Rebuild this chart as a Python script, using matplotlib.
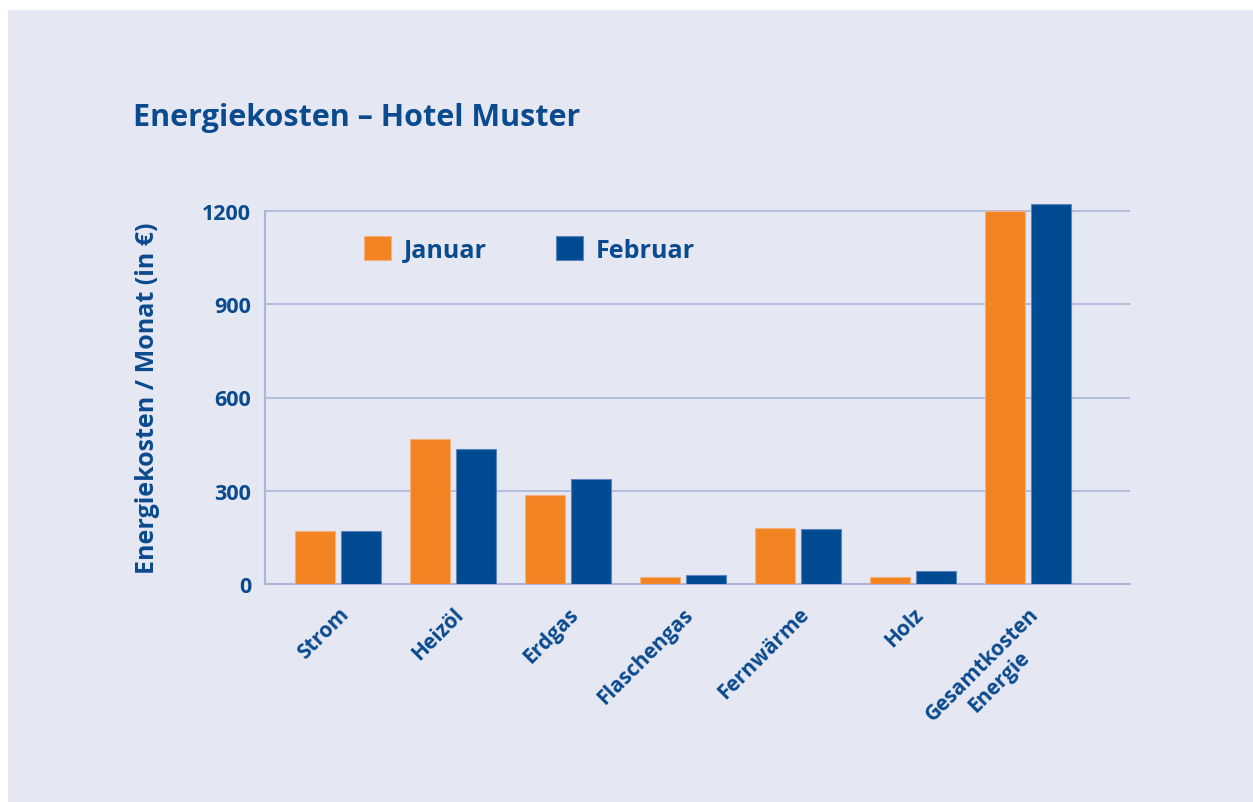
import numpy as np
import matplotlib.pyplot as plt
from matplotlib.patches import Rectangle

plt.rcParams['font.family'] = ['Open Sans', 'DejaVu Sans']

# data
categories = ["Strom", "Heizöl", "Erdgas", "Flaschengas", "Fernwärme", "Holz", "Gesamtkosten\nEnergie"]
januar = [170, 466, 286, 22, 180, 22, 1200]
februar = [170, 434, 338, 29, 177, 42, 1223]
yticks = [0, 300, 600, 900, 1200]

orange = "#f28322"
blue = "#004a91"
textcol = "#0a4a8e"
bg = "#e5e8f2"
gridcol = "#a9b6da"

fig = plt.figure(figsize=(12.53, 8.03), dpi=100)
fig.patch.set_facecolor("white")
# panel background (behind the axes)
fig.patches.append(Rectangle((8 / 1253, 0), 1 - 8 / 1253, 1 - 11 / 803,
                             transform=fig.transFigure, facecolor=bg, edgecolor="none", zorder=-5))

ax = fig.add_axes([265 / 1253, 1 - 585 / 803, (1130 - 265) / 1253, (585 - 190) / 803])
ax.set_facecolor("none")

x = np.arange(len(categories))
w = 0.348
ax.bar(x - 0.2, januar, w, color=orange, edgecolor="#f6b07a", linewidth=0.8, zorder=3, label="Januar")
ax.bar(x + 0.2, februar, w, color=blue, edgecolor="#5c86bd", linewidth=0.8, zorder=3, label="Februar")

ax.set_xlim(-0.635, len(categories) - 1 + 0.887)
ax.set_ylim(0, 1200 * 395 / 373)
ax.set_yticks(yticks)
ax.set_yticklabels([str(v) for v in yticks], fontsize=15.5, fontweight="bold", color=textcol)
ax.yaxis.grid(True, color=gridcol, linewidth=1.2, zorder=1)

for s in ["top", "right"]:
    ax.spines[s].set_visible(False)
ax.spines["left"].set_bounds(0, 1200)
ax.spines["left"].set_color(gridcol)
ax.spines["left"].set_linewidth(1.5)
ax.spines["bottom"].set_color(gridcol)
ax.spines["bottom"].set_linewidth(1.5)
ax.tick_params(axis="both", length=0, pad=10)

ax.set_xticks(x)
ax.set_xticklabels(categories, rotation=45, ha="right", rotation_mode="anchor",
                   fontsize=15, fontweight="bold", color=textcol, multialignment="center")
ax.tick_params(axis="x", pad=14)

ax.set_ylabel("Energiekosten / Monat (in €)", fontsize=18, fontweight="bold", color=textcol, labelpad=30)
ax.yaxis.label.set_y(0.472)

fig.text(133 / 1253, 1 - 118 / 803, "Energiekosten – Hotel Muster", fontsize=22,
         fontweight="bold", color=textcol, va="center", ha="left")

leg = ax.legend(loc="upper left", bbox_to_anchor=(0.089, 0.937), ncol=2, frameon=False,
                handlelength=1.08, handleheight=1.08, handletextpad=0.48, columnspacing=2.8,
                prop={"size": 18, "weight": "bold"})
for t in leg.get_texts():
    t.set_color(textcol)

fig.savefig("out.png", dpi=100, facecolor=fig.get_facecolor())
